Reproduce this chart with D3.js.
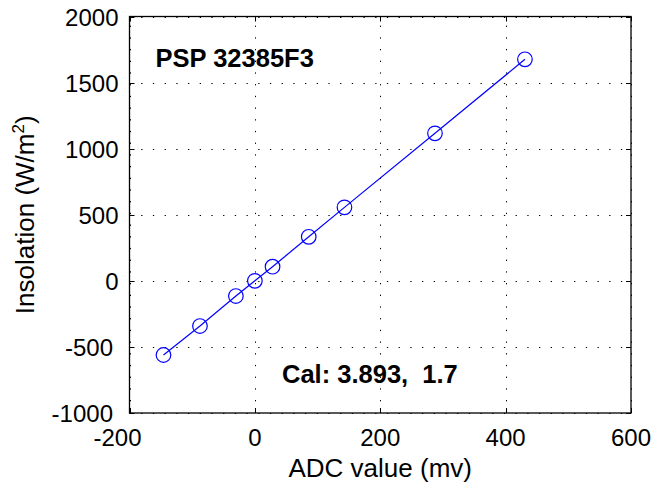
<!DOCTYPE html>
<html>
<head>
<meta charset="utf-8">
<script src="https://cdn.jsdelivr.net/npm/d3@7"></script>
<style>
  html, body { margin: 0; padding: 0; background: #fff; }
  svg { display: block; }
  text { font-family: "Liberation Sans", Arial, Helvetica, sans-serif; fill: #000; }
</style>
</head>
<body>
<script>
// ---- data ----
const adcValues = [-145.8, -87.6, -30.3, 0, 28.2, 85.9, 142.9, 287.3, 430.8];
const insolation = [-561, -342, -115, 0, 107, 333, 556, 1116, 1676];
const xTicks = [-200, 0, 200, 400, 600];
const yTicks = [-1000, -500, 0, 500, 1000, 1500, 2000];
const xDomain = [-200, 600];
const yDomain = [-1000, 2000];
const titleText = "PSP 32385F3";
const calText = "Cal: 3.893,  1.7";
const xLabel = "ADC value (mv)";
const yLabelMain = "Insolation (W/m";
const yLabelSup = "2";

const W = 656, H = 489;
const m = { left: 129.5, right: 656 - 631, top: 16.5, bottom: 489 - 413 };

const svg = d3.select("body").append("svg").attr("width", W).attr("height", H);

const x = d3.scaleLinear().domain(xDomain).range([m.left, W - m.right]);
const y = d3.scaleLinear().domain(yDomain).range([H - m.bottom, m.top]);

const x0 = x.range()[0], x1 = x.range()[1];
const y0 = y.range()[0], y1 = y.range()[1];

// grid
const grid = svg.append("g").attr("stroke", "#000").attr("stroke-width", 1)
  .attr("stroke-dasharray", "1.3,10.4").attr("fill", "none");
xTicks.forEach(t => grid.append("line")
  .attr("x1", Math.round(x(t)) + 0.5).attr("x2", Math.round(x(t)) + 0.5)
  .attr("y1", y0).attr("y2", y1));
yTicks.forEach(t => grid.append("line")
  .attr("y1", Math.round(y(t)) + 0.5).attr("y2", Math.round(y(t)) + 0.5)
  .attr("x1", x0).attr("x2", x1));

// ticks (inside, all four sides)
const tk = svg.append("g").attr("stroke", "#000").attr("stroke-width", 1);
const tl = 5;
xTicks.forEach(t => {
  const px = Math.round(x(t)) + 0.5;
  tk.append("line").attr("x1", px).attr("x2", px).attr("y1", y0).attr("y2", y0 - tl);
  tk.append("line").attr("x1", px).attr("x2", px).attr("y1", y1).attr("y2", y1 + tl);
});
yTicks.forEach(t => {
  const py = Math.round(y(t)) + 0.5;
  tk.append("line").attr("y1", py).attr("y2", py).attr("x1", x0).attr("x2", x0 + tl);
  tk.append("line").attr("y1", py).attr("y2", py).attr("x1", x1).attr("x2", x1 - tl);
});

// box
svg.append("rect").attr("x", x0).attr("y", y1).attr("width", x1 - x0).attr("height", y0 - y1)
  .attr("fill", "none").attr("stroke", "#000").attr("stroke-width", 1.3);

// tick labels
const tickFont = 24;
svg.append("g").selectAll("text").data(xTicks).join("text")
  .attr("x", d => x(d) + (d < 0 ? -12 : 0))
  .attr("y", 445.5)
  .attr("text-anchor", "middle")
  .attr("font-size", tickFont)
  .text(d => d3.format("d")(d).replace("\u2212", "-"));
svg.append("g").selectAll("text").data(yTicks).join("text")
  .attr("x", d => 118.5 + (d < 0 ? -5.5 : 0))
  .attr("y", d => y(d) + 9.3)
  .attr("text-anchor", "end")
  .attr("font-size", tickFont)
  .text(d => String(d));

// axis labels
svg.append("text")
  .attr("x", (x0 + x1) / 2)
  .attr("y", 477)
  .attr("text-anchor", "middle")
  .attr("font-size", 26)
  .text(xLabel);

const yl = svg.append("text")
  .attr("transform", `translate(34,${(y0 + y1) / 2}) rotate(-90)`)
  .attr("text-anchor", "middle")
  .attr("font-size", 26);
yl.append("tspan").text(yLabelMain);
yl.append("tspan").attr("font-size", 17).attr("dy", -10).text(yLabelSup);
yl.append("tspan").attr("dy", 10).text(")");

// data line + markers
const pts = adcValues.map((v, i) => [v, insolation[i]]);
svg.append("path")
  .datum(pts)
  .attr("d", d3.line().x(d => x(d[0])).y(d => y(d[1])))
  .attr("fill", "none").attr("stroke", "#0000ff").attr("stroke-width", 1.2);
svg.append("g").selectAll("circle").data(pts).join("circle")
  .attr("cx", d => x(d[0])).attr("cy", d => y(d[1])).attr("r", 7.3)
  .attr("fill", "none").attr("stroke", "#0000ff").attr("stroke-width", 1.2);

// annotations
svg.append("text")
  .attr("x", 155.5).attr("y", 67.3)
  .attr("font-size", 25.5).attr("font-weight", "bold")
  .text(titleText);
svg.append("text")
  .attr("x", 282).attr("y", 383.3)
  .attr("font-size", 25.5).attr("font-weight", "bold")
  .attr("xml:space", "preserve").style("white-space", "pre")
  .text(calText);
</script>
</body>
</html>
